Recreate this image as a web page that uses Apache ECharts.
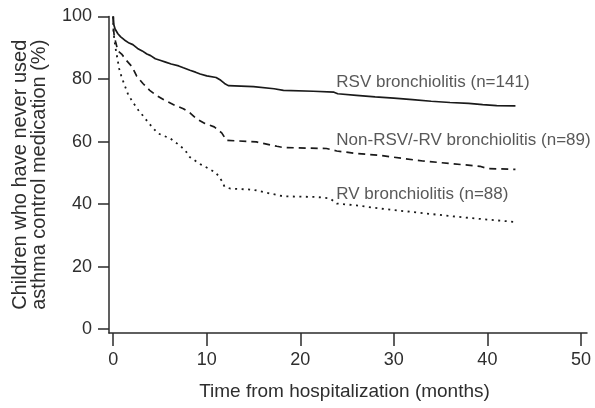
<!DOCTYPE html>
<html>
<head>
<meta charset="utf-8">
<script src="https://cdn.jsdelivr.net/npm/echarts@6/dist/echarts.min.js"></script>
<style>
html,body{margin:0;padding:0;background:#fff;}
#chart{width:595px;height:408px;}
</style>
</head>
<body>
<div id="chart"></div>
<script>
// Kaplan-Meier curves: [month, % never used asthma control medication]
const rsvCurve = [[0,100],[0.05,97.5],[0.2,96],[0.5,94.5],[0.8,93.5],[1.2,92.5],[1.7,91.5],[2.1,91],[2.6,89.8],[3.1,89],[3.6,88],[4.0,87.5],[4.5,86.5],[5.0,86],[5.6,85.4],[6.2,84.8],[7.0,84.2],[7.5,83.6],[8.2,82.8],[8.8,82.2],[9.3,81.6],[10.0,81],[11.0,80.5],[11.5,79.6],[11.9,78.6],[12.3,77.9],[15,77.6],[17.2,76.9],[18.2,76.4],[21.4,76.1],[23.6,75.8],[24,75.3],[26,74.8],[28,74.3],[30,73.9],[32,73.4],[34,72.9],[36,72.5],[38,72.2],[39.5,71.8],[41,71.5],[43,71.4]];
const otherCurve = [[0,100],[0.03,96],[0.1,94],[0.25,92],[0.5,89],[0.9,88],[1.4,86],[2.0,84],[2.5,81],[3.2,78.5],[3.9,76.4],[4.6,74.8],[5.5,73.2],[6.6,71.6],[7.5,70.5],[8.2,69.2],[8.9,67.3],[9.8,65.8],[10.8,64.7],[11.6,62.8],[12.1,60.4],[15.3,59.9],[17.5,58.5],[18.2,58.1],[22.8,57.8],[23.9,57],[26,56.2],[28.5,55.6],[31,54.6],[33.1,53.8],[36,53],[39.2,52.1],[40,51.4],[43,51.1]];
const rvCurve = [[0,100],[0.03,95],[0.15,92],[0.3,89],[0.45,86.5],[0.64,83.3],[0.9,80.6],[1.25,77.8],[1.6,75],[2.1,72.6],[2.7,70],[3.2,68.2],[3.7,66.3],[4.2,64.5],[4.8,62.6],[6.1,61],[7.1,58.8],[7.7,57.2],[8.2,55],[9.3,52.8],[10.3,51.2],[11.0,50],[11.6,47.5],[11.9,45.6],[12.5,45],[15,44.6],[16,43.9],[18.2,42.5],[21.7,42.3],[23.2,41.8],[23.9,40.2],[26,39.6],[28.5,38.6],[31,37.8],[33.5,37],[36,36.2],[39.5,35.2],[43,34.3]];
const curveLabels = [[23.85,78.9,'RSV bronchiolitis (n=141)'],[23.85,60.3,'Non-RSV/-RV bronchiolitis (n=89)'],[23.85,43.2,'RV bronchiolitis (n=88)']];
const xTicks = [0,10,20,30,40,50];
const yTicks = [0,20,40,60,80,100];
const xTitle = 'Time from hospitalization (months)';
const yTitle = 'Children who have never used\nasthma control medication (%)';

const FONT = 'Liberation Sans, Arial, sans-serif';
const AX = '#2b2b2b';
const TXT = '#2e2e2e';
const LINE = '#1a1a1a';

const chart = echarts.init(document.getElementById('chart'), null, {renderer:'canvas'});
const lineSeries = (name, data, type, width) => ({
  name, type:'line', data, showSymbol:false, symbol:'none',
  lineStyle:{color:LINE, width, type},
  animation:false, silent:true
});
chart.setOption({
  animation:false,
  backgroundColor:'#fff',
  grid:{left:109, right:8, top:16.5, bottom:75, containLabel:false},
  xAxis:{
    type:'value', min:-0.45, max:50.65,
    axisLine:{onZero:false, lineStyle:{color:AX, width:1.5}},
    axisTick:{show:true, length:13, customValues:xTicks, lineStyle:{color:AX, width:1.5}},
    axisLabel:{customValues:xTicks, margin:18, color:TXT, fontSize:18, fontFamily:FONT},
    splitLine:{show:false},
    name:xTitle, nameLocation:'middle', nameGap:49,
    nameTextStyle:{color:TXT, fontSize:19, fontFamily:FONT, padding:[0,7,0,0]}
  },
  yAxis:{
    type:'value', min:-1.2, max:100,
    axisLine:{show:true, onZero:false, lineStyle:{color:AX, width:1.5}},
    axisTick:{show:true, length:11, customValues:yTicks, lineStyle:{color:AX, width:1.5}},
    axisLabel:{customValues:yTicks, margin:17, color:TXT, fontSize:18, fontFamily:FONT},
    splitLine:{show:false},
    name:yTitle, nameLocation:'middle', nameGap:60,
    nameTextStyle:{color:TXT, fontSize:20, fontFamily:FONT, lineHeight:19}
  },
  series:[
    lineSeries('RSV bronchiolitis', rsvCurve, 'solid', 1.7),
    lineSeries('Non-RSV/-RV bronchiolitis', otherCurve, [7,5], 1.7),
    lineSeries('RV bronchiolitis', rvCurve, [2,4.5], 1.8),
    {
      type:'scatter', data:curveLabels, symbolSize:0, silent:true, animation:false,
      label:{show:true, position:'right', distance:0, color:TXT, fontSize:17, fontFamily:FONT,
        formatter:p=>p.data[2]}
    }
  ]
});
</script>
</body>
</html>
